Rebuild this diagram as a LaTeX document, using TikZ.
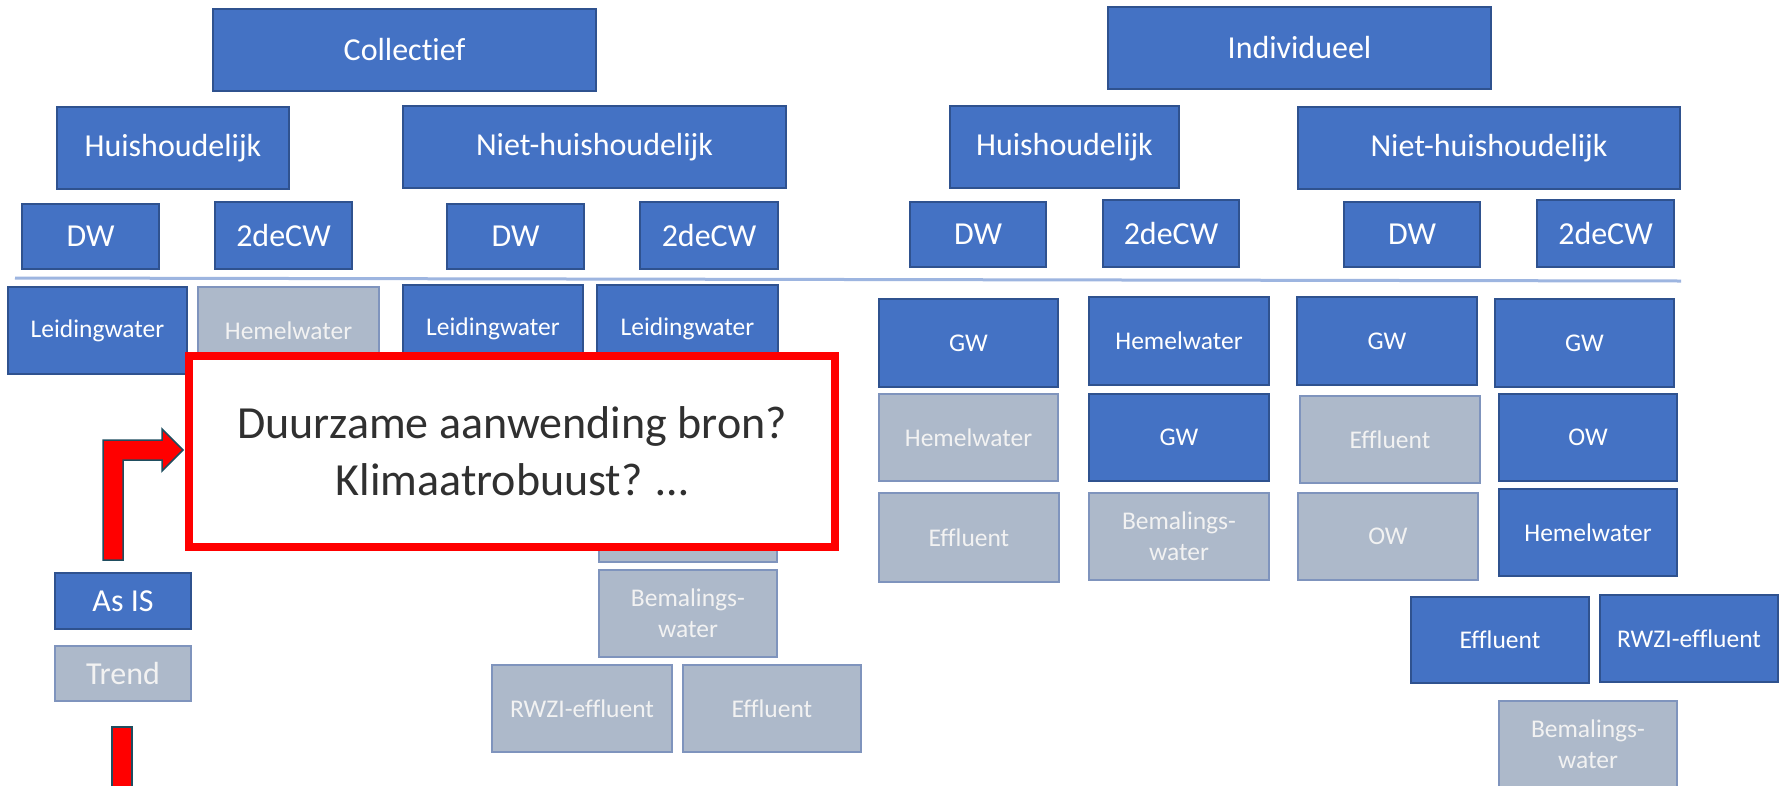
\documentclass[tikz,border=0pt]{standalone}
\usepackage{fontspec}
\setmainfont[Ligatures={NoCommon,NoRare,NoHistoric,NoContextual}]{Carlito}
\definecolor{myblue}{HTML}{4472C4}
\definecolor{myblueline}{HTML}{2F528F}
\definecolor{mygrey}{HTML}{ADB9CA}
\definecolor{mygreyline}{HTML}{7F94BD}
\definecolor{sepcol}{HTML}{9DB5E0}
\definecolor{txtgrey}{HTML}{303030}
\definecolor{arrowedge}{HTML}{1F4E60}
\begin{document}
\begin{tikzpicture}[x=1pt,y=-1pt,
  box/.style={rectangle, inner sep=0pt, align=center, line width=1.5pt},
  bluebox/.style={box, fill=myblue, draw=myblueline, text=white},
  greybox/.style={box, fill=mygrey, draw=mygreyline, text=white!95!black},
  sz/.style 2 args={minimum width=#1pt, minimum height=#2pt},
  big/.style={font=\fontsize{32}{38}\selectfont},
  small/.style={font=\fontsize{25.5}{31}\selectfont},
  sepline/.style={draw=sepcol, line width=3pt},
  redshape/.style={fill=red, draw=arrowedge, line width=1.5pt},
  question/.style={draw=red, line width=8pt, fill=white, inner sep=0pt, align=center, text=txtgrey, font=\fontsize{46}{57}\selectfont},
]
\useasboundingbox (0,0) rectangle (1779,785);
\clip (0,0) rectangle (1779,785);
\fill[white] (0,0) rectangle (1779,785);

% Collectief tree
\node[bluebox,big,sz={383}{82}] (coll) at (404.5,50) {Collec\kern0pt tief};
\node[bluebox,big,sz={232}{82}] (chh) at (173,148) {Huishoudelijk};
\node[bluebox,big,sz={383}{82}] (cnh) at (594.5,147) {Niet-huishoudelijk};
\node[bluebox,big,sz={137}{65}] (cdw1) at (90.5,236.5) {DW};
\node[bluebox,big,sz={137}{67}] (ccw1) at (283.5,235.5) {2deCW};
\node[bluebox,big,sz={137}{65}] (cdw2) at (515.5,236.5) {DW};
\node[bluebox,big,sz={138}{67}] (ccw2) at (709,235.5) {2deCW};

% Individueel tree
\node[bluebox,big,sz={383}{82}] (ind) at (1299.5,48) {Individueel};
\node[bluebox,big,sz={229}{82}] (ihh) at (1064.5,147) {Huishoudelijk};
\node[bluebox,big,sz={382}{82}] (inh) at (1489,148) {Niet-huishoudelijk};
\node[bluebox,big,sz={136}{65}] (idw1) at (978,234.5) {DW};
\node[bluebox,big,sz={136}{67}] (icw1) at (1171,233.5) {2deCW};
\node[bluebox,big,sz={136}{65}] (idw2) at (1412,234.5) {DW};
\node[bluebox,big,sz={137}{67}] (icw2) at (1605.5,233.5) {2deCW};

% separator
\coordinate (sepL) at (15,278);
\coordinate (sepR) at (1681,281);
\draw[sepline] (sepL) -- (sepR);

% Collectief sources
\node[bluebox,small,sz={179}{87}] (c1) at (97.5,330.5) {Leidingwater};
\node[greybox,small,sz={181}{87}] (c2) at (288.5,330.5) {Hemelwater};
\node[bluebox,small,sz={180}{87}] (c3) at (493,328.5) {Leidingwater};
\node[bluebox,small,sz={181}{87}] (c4) at (687.5,328.5) {Leidingwater};
\node[greybox,small,sz={178}{87}] (c5) at (688,518.5) {};
\node[greybox,small,sz={178}{87}] (c6) at (688,613.5) {Bemalings-\\water};
\node[greybox,small,sz={180}{87}] (c7) at (582,708.5) {RWZI-effluent};
\node[greybox,small,sz={178}{87}] (c8) at (772,708.5) {Effluent};

% Individueel sources
\node[bluebox,small,sz={179}{88}] (i1) at (968.5,343) {GW};
\node[bluebox,small,sz={180}{88}] (i2) at (1179,341) {Hemelwater};
\node[bluebox,small,sz={180}{88}] (i3) at (1387,341) {GW};
\node[bluebox,small,sz={179}{88}] (i4) at (1584.5,343) {GW};
\node[greybox,small,sz={179}{87}] (i5) at (968.5,437.5) {Hemelwater};
\node[bluebox,small,sz={180}{87}] (i6) at (1179,437.5) {GW};
\node[greybox,small,sz={180}{87}] (i7) at (1390,439.5) {Effluent};
\node[bluebox,small,sz={178}{87}] (i8) at (1588,437.5) {OW};
\node[greybox,small,sz={180}{89}] (i9) at (969,537.5) {Effluent};
\node[greybox,small,sz={180}{87}] (i10) at (1179,536.5) {Bemalings-\\water};
\node[greybox,small,sz={180}{87}] (i11) at (1388,536.5) {OW};
\node[bluebox,small,sz={178}{87}] (i12) at (1588,532.5) {Hemelwater};
\node[bluebox,small,sz={178}{86}] (i13) at (1500,640) {Effluent};
\node[bluebox,small,sz={178}{87}] (i14) at (1689,638.5) {RWZI-effluent};
\node[greybox,small,sz={178}{87}] (i15) at (1588,744.5) {Bemalings-\\water};

% legend
\node[bluebox,big,sz={136}{56}] (asis) at (123,601) {As IS};
\node[greybox,big,sz={136}{55}] (trend) at (123,673.5) {Trend};

% question box
\node[question,sz={646}{191}] (q) at (512,451.5) {Duurzame aanwending bron?\\Klimaatrobuust? …};

% red bent arrow
\draw[redshape] (103,560) -- (103,440) -- (162,440) -- (162,429) -- (183,450)
  -- (162,471) -- (162,460) -- (123,460) -- (123,560) -- cycle;
% red bar at bottom
\draw[redshape] (112,727) rectangle (132,800);
\end{tikzpicture}
\end{document}
